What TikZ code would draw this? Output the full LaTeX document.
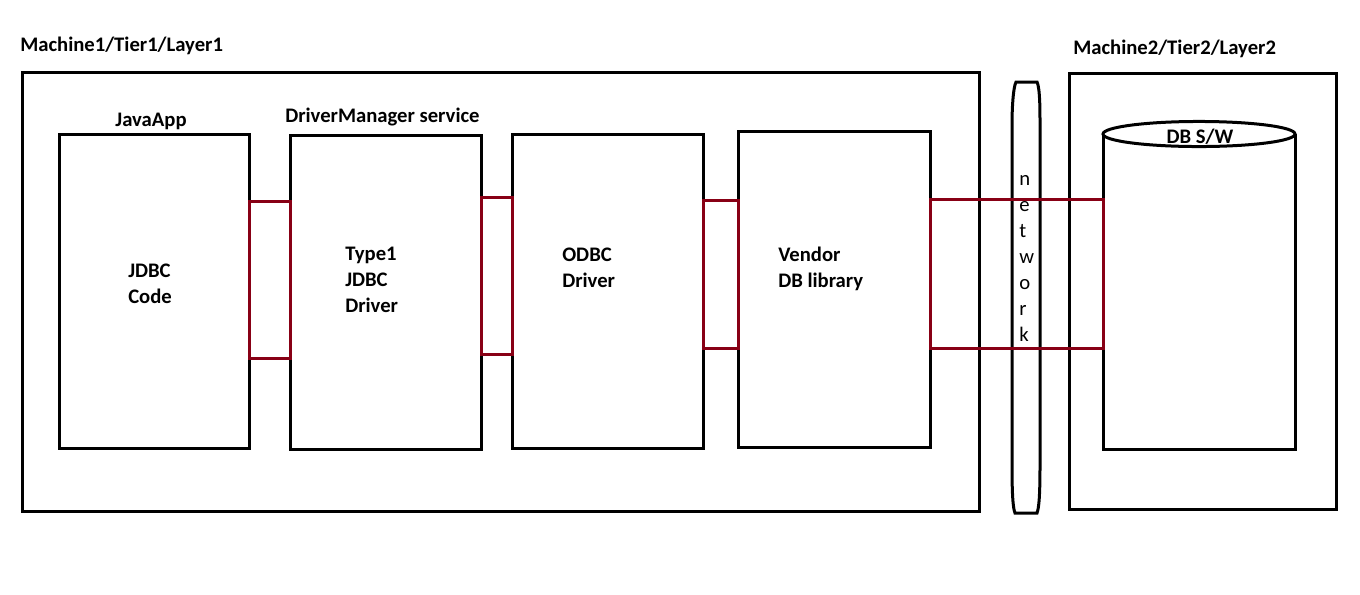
\documentclass[tikz,border=0pt]{standalone}
\usepackage{fontspec}
\setmainfont{Carlito}
\usepackage{tikz}
\usetikzlibrary{fit}
\definecolor{linkred}{RGB}{136,0,21}
\tikzset{
  box/.style={draw, line width=2.25pt, inner sep=0pt, outer sep=0pt},
  link/.style={draw=linkred, line width=2.25pt},
  lbl/.style={font=\bfseries\fontsize{15.5}{19.5}\selectfont, inner sep=0pt, align=left},
  netlbl/.style={font=\fontsize{15.5}{19.5}\selectfont, inner sep=0pt, align=left}
}

\begin{document}
\begin{tikzpicture}[x=0.75pt, y=-0.75pt]
  \useasboundingbox (0,0) rectangle (1360,594);

  % machines
  \node[box, fit={(22,72) (979,511)}] (m1) {};
  \node[box, fit={(1069,73) (1336,509)}] (m2) {};
  \node[lbl, anchor=base west] at (20,51) (m1lbl) {Machine1/Tier1/Layer1};
  \node[lbl, anchor=base west] at (1073,54) (m2lbl) {Machine2/Tier2/Layer2};

  % boxes on machine 1
  \node[box, fit={(59,134) (249,448)}] (java) {};
  \node[box, fit={(290,135) (481,449)}] (driver) {};
  \node[box, fit={(512,134) (703,448)}] (odbc) {};
  \node[box, fit={(738,131) (930,447)}] (vendor) {};
  \node[lbl, anchor=base] at (151,126) (javalbl) {JavaApp};
  \node[lbl, anchor=base west] at (285,122) (dmlbl) {DriverManager service};
  % multi-line texts sit on the baseline of their last line
  \node[lbl, anchor=base west] at (128,303) (jdbc) {JDBC\\Code};
  \node[lbl, anchor=base west] at (345,312) (type1) {Type1\\JDBC\\Driver};
  \node[lbl, anchor=base west] at (562,287) (odbctxt) {ODBC\\Driver};
  \node[lbl, anchor=base west] at (778,287) (vendortxt) {Vendor\\DB library};

  % network
  \draw[line width=2.25pt] (1016,82) -- (1037,82)
    .. controls (1040,88) and (1040,110) .. (1040,125) -- (1040,465)
    .. controls (1040,495) and (1039,508) .. (1037,513) -- (1015,513)
    .. controls (1013,508) and (1012,495) .. (1012,465) -- (1012,125)
    .. controls (1012,110) and (1013,88) .. (1016,82) -- cycle;
  \node[netlbl, anchor=base west] at (1019,341) (net) {n\\e\\t\\w\\o\\r\\k};

  % database
  \node[fit={(1103,134) (1295,449)}, inner sep=0pt, outer sep=0pt] (db) {};
  \draw[line width=2.25pt] (db.north west) -- (db.south west) -- (db.south east) -- (db.north east);
  \draw[line width=2.25pt, fill=white] (db.north) ellipse [x radius=72pt, y radius=9.4pt];
  \node[lbl, anchor=base] at (1200,143) (dblbl) {DB S/W};

  % links
  \draw[link] (java.east |- 0,201) rectangle (driver.west |- 0,358);
  \draw[link] (driver.east |- 0,197) rectangle (odbc.west |- 0,354);
  \draw[link] (odbc.east |- 0,200) rectangle (vendor.west |- 0,348);
  \draw[link] (vendor.east |- 0,199) rectangle (db.west |- 0,348);
\end{tikzpicture}
\end{document}
